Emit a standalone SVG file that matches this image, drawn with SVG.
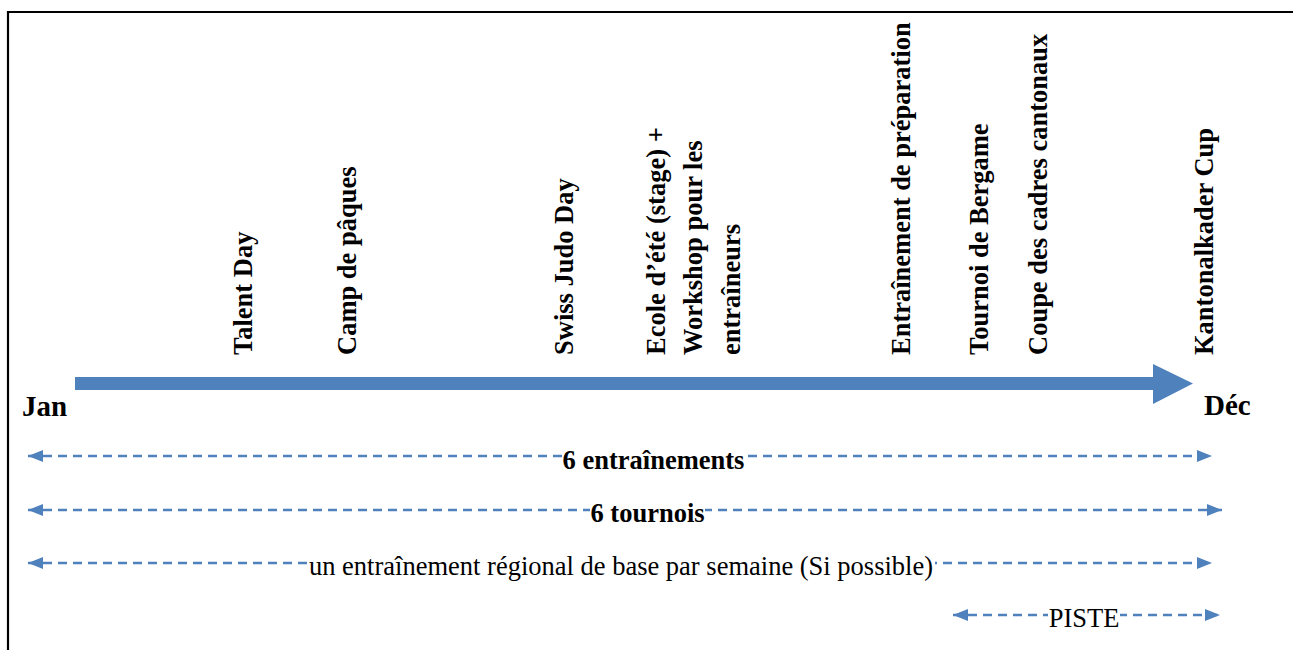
<svg xmlns="http://www.w3.org/2000/svg" width="1293" height="650" viewBox="0 0 1293 650">
<style>
.lbl{font-family:"Liberation Serif","Times New Roman",serif;font-size:26.5px;font-weight:bold;fill:#000}
.reg{font-family:"Liberation Serif","Times New Roman",serif;font-size:26.5px;fill:#000}
.mon{font-family:"Liberation Serif","Times New Roman",serif;font-size:29px;font-weight:bold;fill:#000}
.dash{stroke:#4F81BD;stroke-width:2.5;stroke-dasharray:9 6;fill:none;marker-start:url(#ah);marker-end:url(#ah)}
.bg{fill:#fff}
</style>
<defs>
<marker id="ah" viewBox="0 0 15 12" refX="15" refY="6" markerWidth="15" markerHeight="12" markerUnits="userSpaceOnUse" orient="auto-start-reverse">
<path d="M0,0 L15,6 L0,12 Z" fill="#4F81BD"/>
</marker>
</defs>
<rect width="1293" height="650" fill="#fff"/>
<path d="M8,650 V12 H1293" fill="none" stroke="#000" stroke-width="2.2"/>

<g id="timeline">
<polygon points="75,377 1153,377 1153,364 1193,383.5 1153,404 1153,390 75,390" fill="#4F81BD"/>
<text class="mon" x="22" y="416">Jan</text>
<text class="mon" x="1204" y="415">Déc</text>
</g>

<g id="connectors">
<line class="dash" x1="28" y1="456" x2="1212" y2="456"/>
<line class="dash" x1="28" y1="510" x2="1222" y2="510"/>
<line class="dash" x1="28" y1="563" x2="1212" y2="563"/>
<line class="dash" x1="953" y1="615" x2="1220" y2="615"/>
</g>

<g id="bar-entrainements">
<rect class="bg" x="563" y="446" width="181" height="26"/>
<text class="lbl" x="653.5" y="469" text-anchor="middle">6 entraînements</text>
</g>
<g id="bar-tournois">
<rect class="bg" x="590" y="500" width="115" height="26"/>
<text class="lbl" x="647.5" y="522" text-anchor="middle">6 tournois</text>
</g>
<g id="bar-regional">
<rect class="bg" x="307" y="553" width="628" height="26"/>
<text class="reg" x="621" y="575" text-anchor="middle">un entraînement régional de base par semaine (Si possible)</text>
</g>
<g id="bar-piste">
<rect class="bg" x="1048" y="605" width="72" height="26"/>
<text class="reg" x="1084" y="627" text-anchor="middle">PISTE</text>
</g>

<g id="ev-talent"><text class="lbl" transform="translate(252,355) rotate(-90)">Talent Day</text></g>
<g id="ev-paques"><text class="lbl" transform="translate(356,355) rotate(-90)">Camp de pâques</text></g>
<g id="ev-swiss"><text class="lbl" transform="translate(573,355) rotate(-90)">Swiss Judo Day</text></g>
<g id="ev-ecole">
<text class="lbl" transform="translate(665,355) rotate(-90)">Ecole d’été (stage) +</text>
<text class="lbl" transform="translate(702,355) rotate(-90)">Workshop pour les</text>
<text class="lbl" transform="translate(740,355) rotate(-90)">entraîneurs</text>
</g>
<g id="ev-preparation"><text class="lbl" transform="translate(910,355) rotate(-90)">Entraînement de préparation</text></g>
<g id="ev-bergame"><text class="lbl" transform="translate(988,355) rotate(-90)">Tournoi de Bergame</text></g>
<g id="ev-coupe"><text class="lbl" transform="translate(1047,355) rotate(-90)">Coupe des cadres cantonaux</text></g>
<g id="ev-kantonal"><text class="lbl" transform="translate(1213,355) rotate(-90)">Kantonalkader Cup</text></g>
</svg>
